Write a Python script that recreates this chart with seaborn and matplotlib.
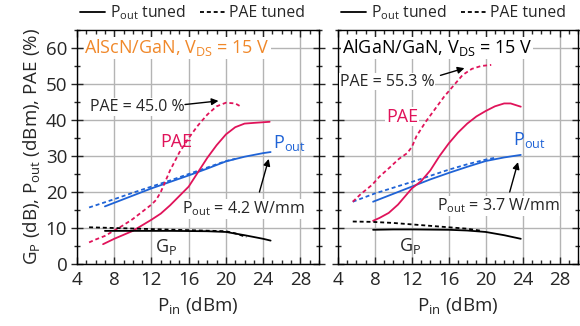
import numpy as np
import pandas as pd
import seaborn as sns
import matplotlib.pyplot as plt
from matplotlib.lines import Line2D
from matplotlib.ticker import MultipleLocator

sns.set_style("ticks")
plt.rcParams["font.family"] = ["Open Sans", "DejaVu Sans"]
plt.rcParams["mathtext.default"] = "regular"

BLUE = "#1f63d6"
RED = "#e0135a"
ORANGE = "#f0882a"
DASH = (0, (2.2, 1.6))

# AlScN/GaN (left)
scn_pout_pin = [7, 8, 10, 12, 14, 16, 18, 20, 22, 24, 24.8]
scn_pout = [16, 17, 19, 21, 22.8, 24.6, 26.5, 28.5, 29.8, 30.8, 31.1]
scn_pout_t_pin = [5.3, 8, 10, 12, 14, 16, 18, 20, 21]
scn_pout_t = [15.7, 18, 19.8, 21.5, 23.2, 25, 26.8, 28.6, 29.2]
scn_pae_pin = [6.8, 8, 10, 12, 13, 14, 16, 17, 18, 19, 20, 21, 22, 23, 24.7]
scn_pae = [5.5, 7, 9.2, 12.3, 14, 16.3, 21.5, 25.5, 29.5, 33, 36, 38, 39, 39.2, 39.5]
scn_pae_t_pin = [5.3, 6, 7, 8, 9, 10, 11, 12, 12.5, 13, 14, 15, 16, 17, 18, 19, 20, 21, 21.7]
scn_pae_t = [6, 6.8, 7.8, 9.3, 10.8, 12.5, 14.5, 16.5, 17.8, 20, 26, 31, 35, 38.5, 41.5, 43.8, 44.8, 44.6, 43.6]
scn_gp_pin = [7, 10, 14, 18, 20, 22, 24, 24.8]
scn_gp = [9.2, 9.2, 9.2, 9.1, 8.9, 8.0, 7.0, 6.5]
scn_gp_t_pin = [5.3, 8, 12, 16, 20, 21, 22.2]
scn_gp_t = [10.2, 10.0, 9.7, 9.4, 9.1, 8.5, 7.5]

# AlGaN/GaN (right)
gan_pout_pin = [7.8, 10, 12, 14, 16, 18, 20, 22, 23.8]
gan_pout = [17.3, 19.5, 21.5, 23.5, 25.3, 27, 28.6, 29.6, 30.3]
gan_pout_t_pin = [5.6, 8, 10, 12, 14, 16, 18, 20, 21]
gan_pout_t = [17.3, 19.6, 21.2, 22.8, 24.5, 26.2, 27.7, 29, 29.5]
gan_pae_pin = [7.8, 8.5, 9.5, 10.5, 11.5, 12, 13, 14, 15, 16, 17, 18, 19, 20, 21, 22, 22.7, 23.8]
gan_pae = [12, 12.8, 14.2, 16.5, 19.5, 21, 23, 26, 30, 33.5, 36.5, 39, 41, 42.5, 43.8, 44.6, 44.6, 43.7]
gan_pae_t_pin = [5.6, 6.5, 7.7, 8.5, 9.6, 10.6, 11.5, 12, 12.5, 13.5, 14.5, 15.5, 16.5, 17.5, 18.5, 19.5, 20.6]
gan_pae_t = [17.3, 19.5, 22, 24.3, 26.8, 29.2, 30.8, 32.5, 35.5, 39.5, 43, 46.5, 49.5, 52.5, 54.2, 55, 55.3]
gan_gp_pin = [7.8, 10, 12, 16, 18, 20, 22, 23.8]
gan_gp = [9.5, 9.6, 9.6, 9.5, 9.3, 8.9, 8.0, 7.0]
gan_gp_t_pin = [5.6, 7.7, 10, 12, 14, 16, 18, 19.6]
gan_gp_t = [11.8, 11.7, 11.4, 11.0, 10.6, 10.2, 9.8, 9.2]

fig = plt.figure(figsize=(5.8, 3.26), dpi=100)
ax1 = fig.add_axes([77 / 580, 62 / 326, 242 / 580, 234 / 326])
ax2 = fig.add_axes([338 / 580, 62 / 326, 240 / 580, 234 / 326])


def curves(ax, pout, pout_t, pae, pae_t, gp, gp_t):
    for (x, y), c, ls in [(pout, BLUE, "-"), (pout_t, BLUE, DASH),
                          (pae, RED, "-"), (pae_t, RED, DASH),
                          (gp, "black", "-"), (gp_t, "black", DASH)]:
        sns.lineplot(x=x, y=y, ax=ax, color=c, linestyle=ls, lw=1.3, zorder=3)


def style(ax):
    ax.set_xlim(4, 30)
    ax.set_ylim(0, 65)
    ax.xaxis.set_major_locator(MultipleLocator(4))
    ax.xaxis.set_minor_locator(MultipleLocator(1))
    ax.yaxis.set_major_locator(MultipleLocator(10))
    ax.yaxis.set_minor_locator(MultipleLocator(5))
    ax.grid(True, which="major", color="#b4b4b4", lw=1, zorder=0)
    ax.tick_params(axis="x", which="major", direction="in", length=5, top=True,
                   labelsize=13.5, pad=5, width=1)
    ax.tick_params(axis="x", which="minor", direction="in", length=3, top=True, width=1)
    ax.tick_params(axis="y", which="major", direction="inout", length=8, right=True,
                   labelsize=13.5, pad=3, width=1)
    ax.tick_params(axis="y", which="minor", direction="inout", length=4, right=True, width=1)
    for s in ax.spines.values():
        s.set_color("black")
        s.set_linewidth(1)
    ax.set_xlabel("$P_{in}$ (dBm)", fontsize=13.5, labelpad=4)
    handles = [Line2D([], [], color="black", lw=1.3),
               Line2D([], [], color="black", lw=1.3, linestyle=DASH)]
    ax.legend(handles, ["$P_{out}$ tuned", "PAE tuned"], loc="lower left",
              bbox_to_anchor=(-0.02, 1.0), ncol=2, frameon=False, fontsize=11.3,
              handlelength=1.6, columnspacing=0.9, handletextpad=0.3, borderaxespad=0.1)


def arrow(ax, tail, head):
    ax.annotate("", xy=head, xytext=tail,
                arrowprops=dict(arrowstyle="-|>", color="black", lw=1, mutation_scale=10,
                                shrinkA=0, shrinkB=0), zorder=5)


box = dict(facecolor="white", edgecolor="none", pad=0.5)

curves(ax1, (scn_pout_pin, scn_pout), (scn_pout_t_pin, scn_pout_t),
       (scn_pae_pin, scn_pae), (scn_pae_t_pin, scn_pae_t),
       (scn_gp_pin, scn_gp), (scn_gp_t_pin, scn_gp_t))
style(ax1)
ax1.set_ylabel("$G_P$ (dB), $P_{out}$ (dBm), PAE (%)", fontsize=13.5, labelpad=3)
ax1.text(4.8, 60, "AlScN/GaN, $V_{DS}$ = 15 V", color=ORANGE, fontsize=13,
         va="center", ha="left", bbox=box, zorder=4)
ax1.text(5.4, 43.6, "PAE = 45.0 %", fontsize=11.5, va="center", ha="left", bbox=box, zorder=4)
arrow(ax1, (15.6, 44.3), (19.2, 45.3))
ax1.text(12.9, 34, "PAE", color=RED, fontsize=13, va="center", ha="left", zorder=4)
ax1.text(25.1, 33.6, "$P_{out}$", color=BLUE, fontsize=13, va="center", ha="left", zorder=4)
ax1.text(15.3, 15.3, "$P_{out}$ = 4.2 W/mm", fontsize=11.5, va="center", ha="left",
         bbox=box, zorder=4)
arrow(ax1, (23.6, 20), (24.6, 29.2))
ax1.text(12.4, 4.6, "$G_P$", fontsize=13, va="center", ha="left", zorder=4)

curves(ax2, (gan_pout_pin, gan_pout), (gan_pout_t_pin, gan_pout_t),
       (gan_pae_pin, gan_pae), (gan_pae_t_pin, gan_pae_t),
       (gan_gp_pin, gan_gp), (gan_gp_t_pin, gan_gp_t))
style(ax2)
ax2.set_yticklabels([])
ax2.set_ylabel("")
ax2.text(4.45, 60, "AlGaN/GaN, $V_{DS}$ = 15 V", color="black", fontsize=13,
         va="center", ha="left", bbox=box, zorder=4)
ax2.text(4.2, 50.6, "PAE = 55.3 %", fontsize=11.5, va="center", ha="left", bbox=box, zorder=4)
arrow(ax2, (15.1, 52.4), (17.7, 54.4))
ax2.text(9.2, 40.9, "PAE", color=RED, fontsize=13, va="center", ha="left", bbox=box, zorder=4)
ax2.text(23.0, 34.4, "$P_{out}$", color=BLUE, fontsize=13, va="center", ha="left", zorder=4)
ax2.text(14.7, 16.2, "$P_{out}$ = 3.7 W/mm", fontsize=11.5, va="center", ha="left",
         bbox=box, zorder=4)
arrow(ax2, (22.6, 20), (23.5, 28.3))
ax2.text(10.6, 5, "$G_P$", fontsize=13, va="center", ha="left", zorder=4)

fig.savefig("out.png", dpi=100)
